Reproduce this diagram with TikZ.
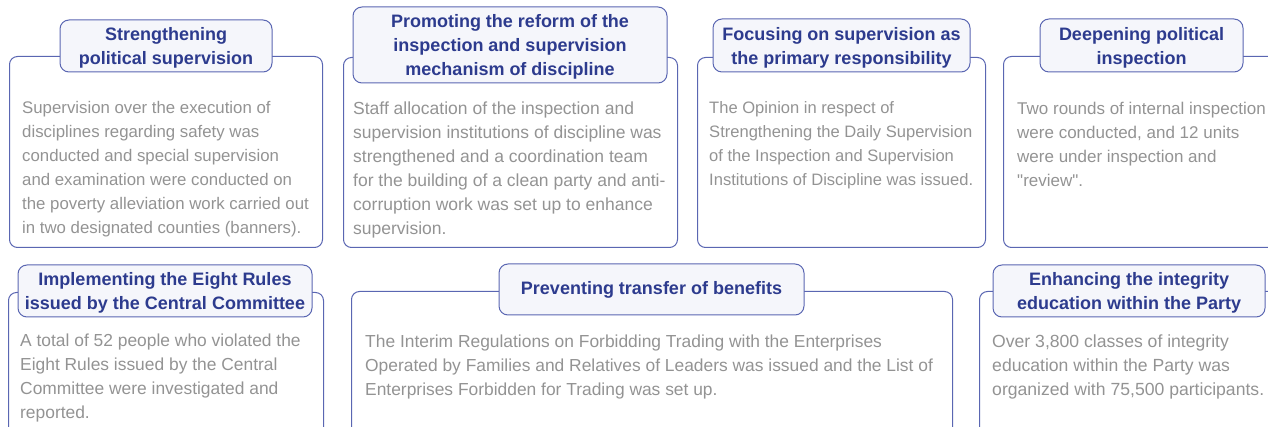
\documentclass[tikz,border=0pt]{standalone}
\usepackage{fontspec}
\setmainfont{Liberation Sans}[Ligatures=TeXOff]
\definecolor{frameblue}{HTML}{5A66B2}
\definecolor{titleblue}{HTML}{2D3B8E}
\definecolor{tabfill}{HTML}{F5F6FB}
\definecolor{bodygray}{HTML}{939393}
\begin{document}
\begin{tikzpicture}[x=1pt,y=-1pt,
		panel/.style={draw=frameblue,line width=1pt,rounded corners=8pt,anchor=north west,inner sep=0pt},
		tab/.style={draw=frameblue,fill=tabfill,line width=1pt,rounded corners=9pt,align=center,text=titleblue,inner sep=0pt,text depth=0pt,font=\fontsize{18}{24}\selectfont\bfseries},
		body/.style={anchor=north west,align=left,inner sep=0pt,text=bodygray,font=\fontsize{#1}{24}\selectfont},
		body/.default=17.2]
		\clip (0,0) rectangle (1268,427);
		\node[panel,minimum width=313pt,minimum height=191pt] (p1) at (9,56) {};
		\node[panel,minimum width=334pt,minimum height=190pt] (p2) at (343,57) {};
		\node[panel,minimum width=288pt,minimum height=190pt] (p3) at (697,57) {};
		\node[panel,minimum width=277pt,minimum height=191pt] (p4) at (1003,56) {};
		\node[panel,minimum width=315pt,minimum height=160pt] (p5) at (8,292) {};
		\node[panel,minimum width=601pt,minimum height=160pt] (p6) at (351,291) {};
		\node[panel,minimum width=300pt,minimum height=160pt] (p7) at (979,291) {};
		\node[tab,minimum width=212pt,minimum height=52pt] (t1) at (166,46) {Strengthening\\political supervision};
		\node[tab,minimum width=314pt,minimum height=76pt] (t2) at (510,45) {Promoting the reform of the\\inspection and supervision\\mechanism of discipline};
		\node[tab,minimum width=257pt,minimum height=53pt] (t3) at (841.5,45.5) {Focusing on supervision as\\the primary responsibility};
		\node[tab,minimum width=203pt,minimum height=53pt] (t4) at (1141.5,45.5) {Deepening political\\inspection};
		\node[tab,minimum width=294pt,minimum height=52pt] (t5) at (165,291) {Implementing the Eight Rules\\issued by the Central Committee};
		\node[tab,minimum width=305pt,minimum height=51pt,text depth=] (t6) at (651.5,289.5) {Preventing transfer of benefits};
		\node[tab,minimum width=272pt,minimum height=52pt] (t7) at (1129,291) {Enhancing the integrity\\education within the Party};
		\node[body=16.8] (b1) at (22,101.5) {Supervision over the execution of\\disciplines regarding safety was\\conducted and special supervision\\and examination were conducted on\\the poverty alleviation work carried out\\in two designated counties (banners).};
		\node[body=17.5] (b2) at (353,101.5) {Staff allocation of the inspection and\\supervision institutions of discipline was\\strengthened and a coordination team\\for the building of a clean party and anti-\\corruption work was set up to enhance\\supervision.};
		\node[body=16.55] (b3) at (709,101.5) {The Opinion in respect of\\Strengthening the Daily Supervision\\of the Inspection and Supervision\\Institutions of Discipline was issued.};
		\node[body=17] (b4) at (1017,101.5) {Two rounds of internal inspection\\were conducted, and 12 units\\were under inspection and\\"review".};
		\node[body=17.4] (b5) at (20,334) {A total of 52 people who violated the\\Eight Rules issued by the Central\\Committee were investigated and\\reported.};
		\node[body=17.4] (b6) at (365,335) {The Interim Regulations on Forbidding Trading with the Enterprises\\Operated by Families and Relatives of Leaders was issued and the List of\\Enterprises Forbidden for Trading was set up.};
		\node[body=17.6] (b7) at (992,335) {Over 3,800 classes of integrity\\education within the Party was\\organized with 75,500 participants.};
		\end{tikzpicture}
\end{document}
